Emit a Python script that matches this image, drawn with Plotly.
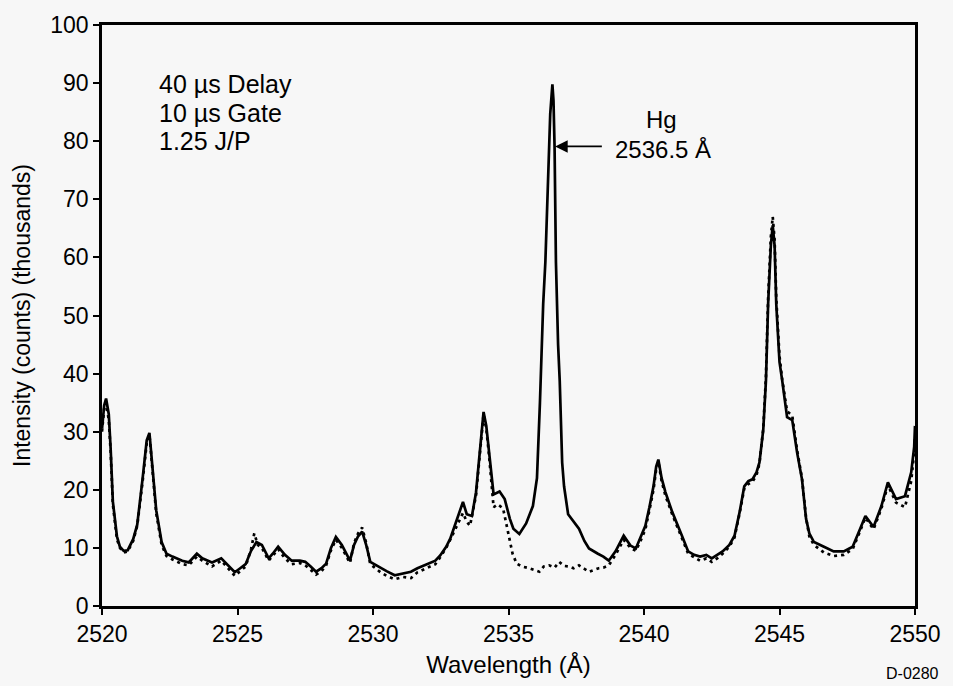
import plotly.graph_objects as go

# ---- data ----
solid_wl = [2520.00, 2520.08, 2520.15, 2520.25, 2520.32, 2520.40, 2520.55, 2520.66, 2520.80, 2520.95,
            2521.15, 2521.30, 2521.50, 2521.65, 2521.75, 2521.85, 2522.00, 2522.20, 2522.38, 2522.60,
            2522.96, 2523.20, 2523.50, 2523.70, 2524.06, 2524.40, 2524.70, 2524.90, 2525.10, 2525.30,
            2525.50, 2525.70, 2525.90, 2526.15, 2526.30, 2526.50, 2526.75, 2527.00, 2527.30, 2527.50,
            2527.70, 2527.90, 2528.10, 2528.27, 2528.45, 2528.63, 2528.85, 2529.15, 2529.30, 2529.45,
            2529.60, 2529.75, 2529.90, 2530.28, 2530.50, 2530.80, 2531.10, 2531.40, 2531.64, 2531.90,
            2532.10, 2532.30, 2532.48, 2532.70, 2532.85, 2533.10, 2533.32, 2533.46, 2533.65, 2533.80,
            2533.95, 2534.08, 2534.18, 2534.27, 2534.45, 2534.67, 2534.86, 2535.05, 2535.18, 2535.40,
            2535.65, 2535.90, 2536.05, 2536.16, 2536.28, 2536.36, 2536.46, 2536.54, 2536.62, 2536.66,
            2536.70, 2536.75, 2536.83, 2536.89, 2536.98, 2537.05, 2537.20, 2537.40, 2537.60, 2537.80,
            2537.97, 2538.30, 2538.50, 2538.70, 2538.95, 2539.25, 2539.50, 2539.70, 2539.90, 2540.05,
            2540.20, 2540.35, 2540.45, 2540.53, 2540.65, 2540.79, 2541.04, 2541.20, 2541.40, 2541.63,
            2541.85, 2542.07, 2542.30, 2542.50, 2542.70, 2542.90, 2543.15, 2543.34, 2543.53, 2543.70,
            2543.85, 2544.00, 2544.15, 2544.26, 2544.40, 2544.50, 2544.58, 2544.68, 2544.75, 2544.82,
            2544.88, 2545.00, 2545.10, 2545.28, 2545.47, 2545.65, 2545.83, 2545.98, 2546.10, 2546.27,
            2546.64, 2547.00, 2547.37, 2547.70, 2547.95, 2548.17, 2548.47, 2548.76, 2549.00, 2549.30,
            2549.63, 2549.86, 2549.97, 2550.00]
solid_int = [30.5, 34.5, 35.7, 33.0, 27.0, 18.0, 12.0, 10.2, 9.5, 9.6,
             11.5, 14.0, 22.0, 28.5, 29.8, 25.0, 16.5, 11.0, 9.0, 8.5,
             7.8, 7.5, 9.0, 8.2, 7.5, 8.2, 6.8, 5.8, 6.5, 7.2,
             9.5, 11.0, 10.5, 8.2, 9.0, 10.2, 8.8, 7.8, 7.8, 7.6,
             6.8, 5.9, 6.5, 7.3, 10.0, 11.9, 10.5, 7.8, 10.5, 12.0,
             12.8, 10.5, 7.6, 6.5, 6.0, 5.3, 5.6, 5.9, 6.5, 7.0,
             7.3, 7.8, 8.7, 10.2, 11.6, 15.0, 17.9, 15.8, 15.5, 19.5,
             27.0, 33.4, 31.0, 27.4, 19.2, 19.7, 18.4, 15.0, 13.3, 12.4,
             14.2, 17.2, 22.0, 35.0, 52.0, 59.2, 73.0, 84.7, 89.8, 87.0,
             79.0, 59.2, 45.0, 38.8, 24.7, 20.6, 15.8, 14.5, 13.3, 11.2,
             9.9, 9.0, 8.5, 7.8, 9.4, 12.1, 10.4, 9.9, 12.0, 13.8,
             17.0, 20.6, 24.0, 25.2, 22.0, 19.6, 16.2, 14.5, 12.1, 9.4,
             8.8, 8.5, 8.8, 8.2, 8.8, 9.4, 10.5, 12.1, 16.2, 20.6,
             21.5, 21.8, 23.0, 24.7, 30.3, 38.8, 52.0, 62.0, 65.5, 62.0,
             52.0, 42.0, 38.8, 32.5, 32.0, 26.4, 21.8, 15.0, 12.5, 11.0,
             10.2, 9.4, 9.4, 10.2, 13.0, 15.5, 13.6, 17.2, 21.3, 18.4,
             18.9, 23.0, 27.4, 31.0]

dashed_wl = [2520.00, 2520.08, 2520.15, 2520.25, 2520.32, 2520.40, 2520.55, 2520.66, 2520.80, 2520.95,
             2521.15, 2521.30, 2521.50, 2521.65, 2521.75, 2521.85, 2522.00, 2522.20, 2522.38, 2522.60,
             2522.96, 2523.20, 2523.50, 2523.70, 2524.06, 2524.40, 2524.70, 2524.90, 2525.10, 2525.30,
             2525.50, 2525.62, 2525.75, 2525.90, 2526.15, 2526.30, 2526.50, 2526.75, 2527.00, 2527.30,
             2527.50, 2527.70, 2527.90, 2528.10, 2528.27, 2528.45, 2528.63, 2528.85, 2529.15, 2529.30,
             2529.45, 2529.60, 2529.75, 2529.90, 2530.28, 2530.50, 2530.80, 2531.10, 2531.40, 2531.64,
             2531.90, 2532.10, 2532.30, 2532.48, 2532.70, 2532.85, 2533.10, 2533.32, 2533.46, 2533.58,
             2533.80, 2533.95, 2534.08, 2534.18, 2534.27, 2534.45, 2534.60, 2534.80, 2534.95, 2535.04,
             2535.15, 2535.30, 2535.50, 2535.77, 2535.95, 2536.14, 2536.30, 2536.50, 2536.70, 2536.87,
             2537.05, 2537.23, 2537.40, 2537.60, 2537.80, 2537.97, 2538.15, 2538.33, 2538.50, 2538.70,
             2538.95, 2539.25, 2539.50, 2539.70, 2539.90, 2540.05, 2540.20, 2540.35, 2540.45, 2540.53,
             2540.65, 2540.79, 2541.04, 2541.20, 2541.40, 2541.63, 2541.85, 2542.07, 2542.30, 2542.50,
             2542.70, 2542.90, 2543.15, 2543.34, 2543.53, 2543.70, 2543.85, 2544.00, 2544.15, 2544.26,
             2544.40, 2544.50, 2544.58, 2544.68, 2544.75, 2544.82, 2544.88, 2545.00, 2545.10, 2545.28,
             2545.47, 2545.65, 2545.83, 2545.98, 2546.10, 2546.27, 2546.64, 2547.00, 2547.37, 2547.70,
             2547.95, 2548.17, 2548.47, 2548.76, 2549.00, 2549.30, 2549.63, 2549.86, 2549.97, 2550.00]
dashed_int = [30.0, 34.0, 35.0, 32.0, 26.5, 17.5, 11.5, 10.0, 9.2, 9.4,
              11.2, 13.8, 21.5, 28.0, 29.5, 24.5, 16.0, 10.5, 8.6, 8.0,
              7.2, 7.0, 8.5, 7.8, 6.8, 7.8, 6.2, 5.2, 6.0, 6.8,
              9.8, 12.5, 10.5, 10.0, 7.8, 8.6, 9.8, 8.2, 7.2, 7.4,
              7.0, 6.2, 5.4, 6.0, 7.0, 9.6, 11.4, 10.0, 7.4, 10.8,
              12.5, 13.5, 10.8, 7.2, 5.8, 5.2, 4.6, 5.0, 4.8, 5.8,
              6.4, 6.8, 7.2, 8.4, 10.0, 11.4, 14.0, 16.0, 14.5, 13.8,
              19.0, 26.5, 33.0, 30.5, 26.5, 17.0, 17.5, 16.8, 13.5, 11.6,
              9.0, 7.3, 6.8, 6.5, 6.2, 5.9, 6.8, 7.0, 6.6, 7.6,
              6.9, 6.8, 6.5, 7.0, 6.4, 5.9, 6.2, 6.5, 6.6, 7.0,
              8.8, 11.4, 10.0, 9.5, 11.5, 13.2, 16.5, 20.0, 23.5, 24.8,
              21.5, 19.0, 15.8, 14.0, 11.6, 9.0, 8.4, 7.8, 8.2, 7.6,
              8.2, 9.0, 10.2, 11.8, 16.0, 20.2, 21.0, 21.4, 22.5, 24.5,
              30.5, 39.5, 53.0, 63.5, 67.0, 63.0, 53.0, 43.0, 39.0, 33.5,
              32.8, 26.8, 22.0, 15.2, 12.0, 10.5, 9.2, 8.6, 8.8, 9.8,
              12.6, 15.2, 13.2, 16.8, 20.8, 17.8, 17.0, 21.5, 26.5, 29.0]

x_ticks = [2520, 2525, 2530, 2535, 2540, 2545, 2550]
y_ticks = [0, 10, 20, 30, 40, 50, 60, 70, 80, 90, 100]

FONT = "Liberation Sans, Arial, Helvetica, sans-serif"

fig = go.Figure()
fig.add_trace(go.Scatter(x=dashed_wl, y=dashed_int, mode="lines",
                         line=dict(color="black", width=2.7, dash="3px,4px"),
                         showlegend=False, hoverinfo="skip"))
fig.add_trace(go.Scatter(x=solid_wl, y=solid_int, mode="lines",
                         line=dict(color="black", width=2.7),
                         showlegend=False, hoverinfo="skip"))

TXT = dict(size=25, color="black", family=FONT)
annots = [
    dict(x=0.068, y=89.8, xref="paper", yref="y", text="40 µs Delay", showarrow=False,
         xanchor="left", yanchor="middle", font=TXT),
    dict(x=0.068, y=84.9, xref="paper", yref="y", text="10 µs Gate", showarrow=False,
         xanchor="left", yanchor="middle", font=TXT),
    dict(x=0.068, y=80.0, xref="paper", yref="y", text="1.25 J/P", showarrow=False,
         xanchor="left", yanchor="middle", font=TXT),
    dict(x=2540.64, y=83.8, xref="x", yref="y", text="Hg", showarrow=False,
         xanchor="center", yanchor="middle", font=dict(size=24, color="black", family=FONT)),
    dict(x=2540.7, y=78.6, xref="x", yref="y", text="2536.5 Å", showarrow=False,
         xanchor="center", yanchor="middle", font=dict(size=24, color="black", family=FONT)),
    dict(x=2536.72, y=79.1, xref="x", yref="y", ax=2538.5, ay=79.1, axref="x", ayref="y",
         text="", showarrow=True, arrowhead=2, arrowsize=1.4, arrowwidth=1.8, arrowcolor="black"),
    dict(x=1.0317, y=-0.1156, xref="paper", yref="paper", text="D-0280", showarrow=False,
         xanchor="right", yanchor="middle", font=dict(size=16, color="black", family=FONT)),
]

fig.update_layout(
    width=953, height=686,
    margin=dict(l=102, r=31, t=20, b=78),
    paper_bgcolor="#f7f7f7", plot_bgcolor="#f7f7f7",
    font=dict(family=FONT, color="black"),
    annotations=annots,
    xaxis=dict(range=[2520, 2550], tickvals=x_ticks, ticktext=[str(v) for v in x_ticks],
               ticks="outside", ticklen=6, tickwidth=2, tickcolor="black",
               showline=True, linecolor="black", linewidth=2.5, mirror=True,
               showgrid=False, zeroline=False,
               tickfont=dict(size=23, color="black", family=FONT),
               title=dict(text="Wavelength (Å)", font=dict(size=24, color="black", family=FONT),
                          standoff=10)),
    yaxis=dict(range=[0, 100], tickvals=y_ticks, ticktext=[str(v) for v in y_ticks],
               ticks="outside", ticklen=6, tickwidth=2, tickcolor="black",
               showline=True, linecolor="black", linewidth=2.5, mirror=True,
               showgrid=False, zeroline=False,
               tickfont=dict(size=23, color="black", family=FONT),
               title=dict(text="Intensity (counts) (thousands)",
                          font=dict(size=23, color="black", family=FONT), standoff=14)),
)

fig.write_html("out.html")
